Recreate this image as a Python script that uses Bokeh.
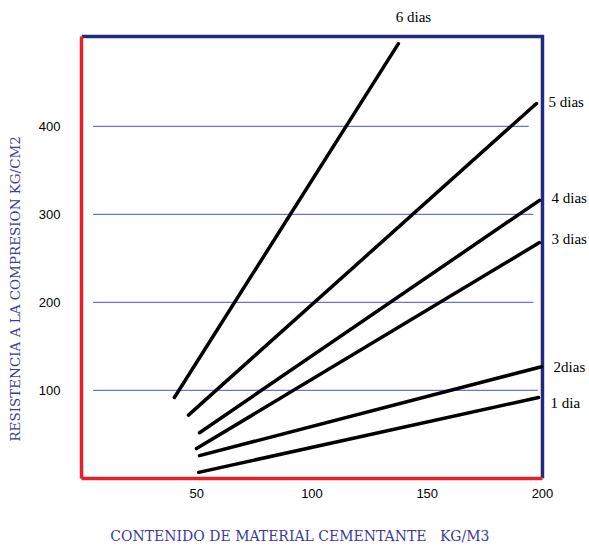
from bokeh.plotting import figure
from bokeh.models import Range1d, FixedTicker
from bokeh.core.properties import value
from bokeh.embed import file_html
from bokeh.resources import INLINE

# ---- data ----
series_names = ["1 dia", "2dias", "3 dias", "4 dias", "5 dias", "6 dias"]
x_start = [50.8, 51.2, 49.9, 51.2, 46.4, 40.3]
y_start = [7, 26, 34, 52, 72, 92]
x_end = [198.3, 199.6, 198.7, 198.7, 197.4, 137.5]
y_end = [92, 127, 268, 316, 426, 494]
x_ticks = [50, 100, 150, 200]
y_ticks = [100, 200, 300, 400]
grid_x0 = [5, 5, 5, 5]
grid_x1 = [198, 196, 196, 194]

# chart box limits (data units) and the extra room kept for the labels
X_MAX, Y_MAX = 200, 502
X_VIEW, Y_VIEW = 220.4, 543

RED = "#e8202a"
NAVY = "#1f2a80"
GRID = "#7070e0"
TITLE_BLUE = "#3a3aa0"
NB = "\u00a0"

p = figure(width=589, height=548, output_backend="svg", toolbar_location=None,
           title=None,
           x_range=Range1d(0, X_VIEW), y_range=Range1d(0, Y_VIEW),
           min_border_left=81, min_border_top=0, min_border_right=0,
           min_border_bottom=70)
p.background_fill_color = "white"
p.border_fill_color = "white"
p.outline_line_color = None
p.xgrid.grid_line_color = None
p.ygrid.grid_line_color = None

# grid lines as segments
p.segment(x0=grid_x0, y0=y_ticks, x1=grid_x1, y1=y_ticks,
          line_color=GRID, line_width=1.3)

# navy top and right borders of the box
p.line(x=[0, X_MAX, X_MAX], y=[Y_MAX, Y_MAX, 0], line_color=NAVY,
       line_width=3.5, line_join="miter")

# series lines
p.segment(x0=x_start, y0=y_start, x1=x_end, y1=y_end,
          line_color="black", line_width=3.5, line_cap="round")

# series labels
right_idx = [i for i, n in enumerate(series_names) if n != "6 dias"]
top_idx = [i for i, n in enumerate(series_names) if n == "6 dias"]
right_dy = [5, 0, -4, -2, -1]
p.text(x=[x_end[i] for i in right_idx], y=[y_end[i] for i in right_idx],
       text=[series_names[i] for i in right_idx], x_offset=12, y_offset=right_dy,
       text_align="left", text_baseline="middle",
       text_font=value("Liberation Serif"), text_font_size="15px",
       text_color="black")
p.text(x=[x_end[i] for i in top_idx], y=[y_end[i] for i in top_idx],
       text=[series_names[i] for i in top_idx], x_offset=15, y_offset=-27,
       text_align="center", text_baseline="middle",
       text_font=value("Liberation Serif"), text_font_size="15px",
       text_color="black")

# axes styling (red left and bottom border)
for ax in (p.xaxis[0], p.yaxis[0]):
    ax.axis_line_color = RED
    ax.axis_line_width = 3.5
    ax.major_tick_line_color = None
    ax.minor_tick_line_color = None
    ax.major_label_text_font = "Liberation Sans"
    ax.major_label_text_font_size = "13px"
    ax.major_label_text_color = "black"
    ax.axis_label_text_font = "DejaVu Serif"
    ax.axis_label_text_font_style = "normal"
    ax.axis_label_text_color = TITLE_BLUE

p.xaxis[0].bounds = (0, X_MAX)
p.yaxis[0].bounds = (0, Y_MAX)
p.xaxis[0].ticker = FixedTicker(ticks=x_ticks)
p.yaxis[0].ticker = FixedTicker(ticks=y_ticks)
p.xaxis[0].major_label_standoff = 4
p.yaxis[0].major_label_standoff = 15
# trailing no-break spaces shift the centred titles to where the reference has them
p.xaxis[0].axis_label = "CONTENIDO DE MATERIAL CEMENTANTE" + NB * 3 + "KG/M3" + NB * 16
p.yaxis[0].axis_label = "RESISTENCIA A LA COMPRESION KG/CM2" + NB * 23
p.xaxis[0].axis_label_text_font_size = "14px"
p.yaxis[0].axis_label_text_font_size = "13.5px"
p.xaxis[0].axis_label_standoff = 27
p.yaxis[0].axis_label_standoff = 13

open("out.html", "w").write(file_html(p, INLINE))
